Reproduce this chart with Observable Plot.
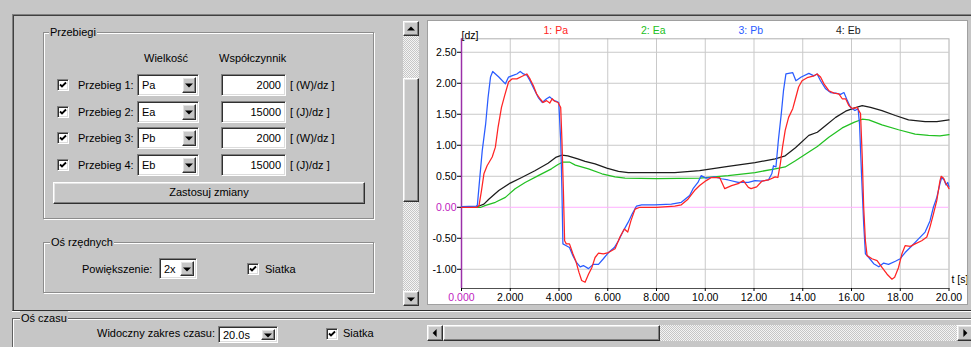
<!DOCTYPE html>
<html><head><meta charset="utf-8">
<script src="https://cdn.jsdelivr.net/npm/d3@7"></script>
<script src="https://cdn.jsdelivr.net/npm/@observablehq/plot@0.6"></script>
<style>
body{margin:0;width:971px;height:347px;overflow:hidden;background:#c6c6c6;font-family:"Liberation Sans",Arial,sans-serif;font-size:11px;color:#000;position:relative}
div{box-sizing:border-box}
.a{position:absolute}
.t{position:absolute;white-space:nowrap;line-height:14px;height:14px}
.raised{position:absolute;background:#c6c6c6;border:1px solid;border-color:#fff #303030 #303030 #fff;box-shadow:inset -1px -1px 0 #808080, inset 1px 1px 0 #e4e4e4}
.sunken{position:absolute;background:#fff;border:1px solid;border-color:#808080 #fff #fff #808080;box-shadow:inset 1px 1px 0 #303030, inset -1px -1px 0 #dcdcdc}
.group{position:absolute;border:1px solid #8c8c8c;box-shadow:inset 1px 1px 0 #fff, 1px 1px 0 #fff}
.glabel{position:absolute;background:#c6c6c6;padding:0 1px;line-height:14px;white-space:nowrap}
.track{position:absolute;background-color:#c6c6c6;background-image:repeating-conic-gradient(#f4f4f4 0 25%, transparent 0 50%);background-size:2px 2px}
.tri{position:absolute;left:50%;top:50%;width:0;height:0}
.dn{border-left:4px solid transparent;border-right:4px solid transparent;border-top:4px solid #000;transform:translate(-50%,-40%)}
.up{border-left:4px solid transparent;border-right:4px solid transparent;border-bottom:4px solid #000;transform:translate(-50%,-60%)}
.lf{border-top:4px solid transparent;border-bottom:4px solid transparent;border-right:4px solid #000;transform:translate(-60%,-50%)}
.rt{border-top:4px solid transparent;border-bottom:4px solid transparent;border-left:4px solid #000;transform:translate(-40%,-50%)}
#panel{position:absolute;left:427px;top:20px;width:541px;height:285px;background:#fff}
#panelBorder{position:absolute;left:427px;top:20px;width:541px;height:285px;border:1px solid #a0a0a0;pointer-events:none}
#legend{position:absolute;left:80px;top:4px;width:390px;display:flex;font-size:10.5px;line-height:12px}
#legend span{flex:1;text-align:center}
</style>
</head>
<body>
<script>
// ---------- chart data: [time s, value dz] ----------
const pa = [[0,0],[0.65,0],[0.72,0.03],[0.82,0.27],[0.92,0.54],[1.05,0.67],[1.26,0.81],[1.39,0.97],[1.5,1.29],[1.64,1.61],[1.77,1.80],[1.93,2.02],[2.07,2.07],[2.27,2.07],[2.47,2.11],[2.68,2.15],[2.81,2.07],[2.95,1.96],[3.08,1.83],[3.22,1.75],[3.35,1.69],[3.49,1.72],[3.62,1.68],[3.72,1.75],[3.82,1.71],[3.96,1.69],[4.07,1.61],[4.12,1.08],[4.18,0.27],[4.23,-0.54],[4.3,-0.59],[4.43,-0.59],[4.57,-0.75],[4.70,-0.88],[4.82,-1.05],[4.93,-1.18],[5.07,-1.21],[5.21,-1.08],[5.35,-0.97],[5.48,-0.81],[5.62,-0.74],[5.82,-0.75],[6.03,-0.73],[6.3,-0.67],[6.5,-0.48],[6.68,-0.35],[6.82,-0.40],[6.95,-0.22],[7.12,-0.03],[7.32,0],[8.0,0],[8.75,0.02],[9.02,0.04],[9.29,0.13],[9.56,0.27],[9.77,0.35],[10.04,0.43],[10.25,0.48],[10.59,0.48],[10.8,0.30],[11.08,0.35],[11.35,0.38],[11.56,0.43],[11.77,0.32],[11.88,0.30],[12.11,0.33],[12.32,0.42],[12.59,0.44],[12.87,0.49],[12.98,0.48],[13.08,0.70],[13.17,0.97],[13.28,1.24],[13.42,1.45],[13.59,1.59],[13.70,1.75],[13.83,1.94],[13.97,2.04],[14.18,2.09],[14.46,2.12],[14.59,2.15],[14.73,2.10],[14.87,1.99],[15.07,1.88],[15.28,1.84],[15.48,1.83],[15.62,1.75],[15.76,1.75],[15.89,1.64],[16.05,1.59],[16.23,1.61],[16.37,1.51],[16.44,0.81],[16.50,0],[16.57,-0.54],[16.64,-0.78],[16.84,-0.83],[17.05,-0.86],[17.25,-0.97],[17.46,-1.08],[17.66,-1.16],[17.77,-1.13],[17.93,-0.97],[18.07,-0.75],[18.20,-0.62],[18.41,-0.63],[18.61,-0.59],[18.88,-0.54],[19.09,-0.48],[19.22,-0.32],[19.36,-0.11],[19.50,0.11],[19.63,0.43],[19.68,0.50],[19.78,0.47],[19.85,0.40],[19.93,0.35],[20,0.30]];
const ea = [[0,0],[0.8,0],[0.99,0.03],[1.39,0.08],[1.80,0.16],[2.2,0.30],[2.61,0.40],[3.15,0.51],[3.69,0.62],[3.96,0.69],[4.16,0.73],[4.43,0.73],[4.67,0.68],[5.21,0.62],[5.76,0.54],[6.3,0.49],[6.71,0.47],[8.0,0.46],[9.77,0.47],[10.94,0.51],[12.04,0.56],[12.87,0.62],[13.28,0.65],[13.70,0.75],[14.25,0.89],[14.6,0.98],[15.07,1.13],[15.62,1.28],[16.10,1.37],[16.44,1.42],[16.71,1.41],[17.25,1.33],[17.93,1.25],[18.61,1.18],[19.16,1.16],[19.63,1.15],[20,1.17]];
const pb = [[0,0.01],[0.6,0.02],[0.65,0.03],[0.74,0.43],[0.85,0.91],[0.99,1.34],[1.09,1.77],[1.19,2.10],[1.28,2.19],[1.53,2.10],[1.80,1.99],[1.93,2.10],[2.14,2.13],[2.27,2.15],[2.41,2.19],[2.54,2.15],[2.68,2.13],[2.81,2.04],[3.01,1.88],[3.15,1.77],[3.31,1.69],[3.49,1.75],[3.62,1.78],[3.76,1.73],[3.89,1.71],[3.99,1.69],[4.07,1.08],[4.12,0.27],[4.16,-0.59],[4.30,-0.62],[4.43,-0.65],[4.57,-0.78],[4.70,-0.88],[4.87,-0.96],[5.0,-0.94],[5.21,-0.99],[5.41,-0.92],[5.62,-0.92],[5.82,-0.83],[6.03,-0.73],[6.27,-0.65],[6.44,-0.54],[6.64,-0.38],[6.84,-0.24],[7.0,-0.11],[7.18,0.02],[7.39,0.04],[7.93,0.04],[8.61,0.05],[9.02,0.08],[9.36,0.19],[9.50,0.30],[9.70,0.40],[9.83,0.51],[10.04,0.47],[10.39,0.49],[10.66,0.46],[10.94,0.44],[11.35,0.40],[11.77,0.40],[12.04,0.43],[12.32,0.42],[12.59,0.44],[12.73,0.54],[12.80,0.67],[12.9,0.65],[13.0,1.08],[13.12,1.51],[13.21,1.88],[13.31,2.15],[13.42,2.16],[13.59,2.17],[13.72,2.04],[13.94,2.10],[14.25,2.16],[14.46,2.12],[14.59,2.15],[14.73,2.04],[14.94,1.91],[15.14,1.85],[15.35,1.84],[15.55,1.82],[15.69,1.85],[15.83,1.72],[15.96,1.61],[16.14,1.56],[16.27,1.59],[16.33,1.34],[16.41,0.54],[16.50,-0.27],[16.57,-0.75],[16.71,-0.81],[16.91,-0.91],[17.12,-0.96],[17.32,-0.90],[17.52,-0.92],[17.80,-0.87],[18.0,-0.83],[18.20,-0.73],[18.48,-0.62],[18.75,-0.51],[19.02,-0.40],[19.22,-0.22],[19.36,0],[19.50,0.16],[19.63,0.38],[19.70,0.48],[19.80,0.44],[19.88,0.36],[19.95,0.40],[20,0.33]];
const eb = [[0,0],[0.6,0],[0.72,0.02],[0.92,0.05],[1.12,0.13],[1.53,0.27],[2.0,0.39],[2.47,0.48],[3.01,0.59],[3.55,0.71],[3.89,0.81],[4.12,0.84],[4.36,0.83],[4.77,0.78],[5.07,0.74],[5.48,0.70],[5.96,0.63],[6.44,0.58],[6.84,0.56],[8.0,0.56],[8.75,0.56],[9.77,0.59],[10.94,0.66],[12.04,0.72],[12.87,0.78],[13.28,0.83],[13.70,0.96],[14.25,1.16],[14.6,1.21],[14.94,1.32],[15.35,1.45],[15.76,1.55],[16.10,1.60],[16.44,1.64],[16.78,1.61],[17.25,1.56],[17.80,1.48],[18.34,1.41],[19.02,1.38],[19.5,1.38],[20,1.41]];

const seriesNames = ["1: Pa", "2: Ea", "3: Pb", "4: Eb"];
const seriesColors = ["#ff2424", "#22c022", "#2a5cff", "#1c1c1c"];

const xTicks = [0, 2, 4, 6, 8, 10, 12, 14, 16, 18, 20];
const xTickLabels = ["0.000", "2.000", "4.000", "6.000", "8.000", "10.00", "12.00", "14.00", "16.00", "18.00", "20.00"];
const yTicks = [-1, -0.5, 0, 0.5, 1, 1.5, 2, 2.5];
const yTickLabels = ["-1.00", "-0.50", "0.00", "0.50", "1.00", "1.50", "2.00", "2.50"];
const yUnit = "[dz]";
const xUnit = "t [s]";
const xDomain = [0, 20];
const yDomain = [-1.31, 2.717];

// ---------- GUI texts ----------
const rowLabels = ["Przebieg 1:", "Przebieg 2:", "Przebieg 3:", "Przebieg 4:"];
const rowQuantities = ["Pa", "Ea", "Pb", "Eb"];
const rowFactors = ["2000", "15000", "2000", "15000"];
const rowUnits = ["[ (W)/dz ]", "[ (J)/dz ]", "[ (W)/dz ]", "[ (J)/dz ]"];

// ---------- GUI helpers ----------
function el(cls, x, y, w, h, html, parent) {
  const d = document.createElement("div");
  d.className = cls;
  d.style.left = x + "px"; d.style.top = y + "px";
  if (w != null) d.style.width = w + "px";
  if (h != null) d.style.height = h + "px";
  if (html != null) d.innerHTML = html;
  (parent || document.body).appendChild(d);
  return d;
}
function text(x, yc, s, parent) { return el("t", x, yc - 7, null, null, s, parent); }
function arrowBtn(x, y, w, h, dir, parent) { const b = el("raised", x, y, w, h, null, parent); const t = el("tri " + dir, 0, 0, null, null, null, b); t.style.left = "50%"; t.style.top = "50%"; return b; }
const checkSvg = '<svg width="10" height="10" style="position:absolute;left:0;top:0"><polyline points="2,4.5 4,6.5 8,2.5" fill="none" stroke="#000" stroke-width="1.8"/></svg>';
function checkbox(x, y) { el("sunken", x, y, 12, 12, checkSvg); }
function combo(x, y, w, h, s) {
  const c = el("sunken", x, y, w, h);
  el("t", 4, (h - 2) / 2 - 7, null, null, s, c);
  arrowBtn(w - 18, 2, 14, h - 6, "dn", c);
}
function input(x, y, w, h, s) {
  const c = el("sunken", x, y, w, h);
  const t = el("t", 0, (h - 2) / 2 - 7, w - 6, null, s, c);
  t.style.textAlign = "right";
}
function group(x, y, w, h, label, lx) {
  el("group", x, y, w, h);
  el("glabel", lx, y - 7, null, 14, label);
}

// outer frames
const topFrame = el("a", 12, 14, 962, 297);
topFrame.style.borderTop = "1px solid #808080"; topFrame.style.borderLeft = "1px solid #808080"; topFrame.style.borderBottom = "1px solid #303030";
topFrame.style.boxShadow = "inset 1px 1px 0 #404040, 0 1px 0 #fff";
const bottomGroup = el("a", 12, 318, 962, 40);
bottomGroup.style.borderTop = "1px solid #606060"; bottomGroup.style.borderLeft = "1px solid #606060";
bottomGroup.style.boxShadow = "inset 1px 1px 0 #fff";
el("glabel", 20, 311, null, 14, "Oś czasu");

// Przebiegi group
group(43, 32, 331, 187, "Przebiegi", 49);
text(144, 58, "Wielkość");
text(219, 58, "Współczynnik");
rowLabels.forEach((lab, i) => {
  const yc = 85 + i * 26.67;
  checkbox(57, Math.round(yc - 6));
  text(78, yc, lab);
  combo(137, Math.round(yc - 11), 62, 22, rowQuantities[i]);
  input(221, Math.round(yc - 11), 65, 22, rowFactors[i]);
  text(290, yc, rowUnits[i]);
});
const btn = el("raised", 53, 182, 312, 22, "Zastosuj zmiany");
btn.style.textAlign = "center"; btn.style.lineHeight = "19px";

// Oś rzędnych group
group(43, 242, 331, 51, "Oś rzędnych", 50);
text(82, 269, "Powiększenie:");
combo(159, 258, 38, 21, "2x");
checkbox(247, 263);
text(265, 269, "Siatka");

// vertical scrollbar
el("track", 403, 35, 16, 256);
arrowBtn(403, 21, 16, 15, "up");
arrowBtn(403, 291, 16, 15, "dn");
el("raised", 403, 78, 16, 124);

// time axis controls
text(97, 333, "Widoczny zakres czasu:");
combo(218, 326, 60, 17, "20.0s");
checkbox(326, 328);
text(343, 333, "Siatka");
el("track", 443, 325, 528, 16);
arrowBtn(427, 325, 16, 16, "lf");
el("raised", 443, 325, 217, 16);
arrowBtn(957, 325, 16, 16, "rt");

// ---------- chart ----------
const panel = el("a", 427, 20, 541, 285);
panel.id = "panel";
const grid = "#c9c9c9";
const magenta = "#c020c0";
const xy = {x: d => d[0], y: d => d[1], strokeWidth: 1.25, curve: "linear"};
const chart = Plot.plot({
  width: 541, height: 285,
  marginLeft: 34, marginRight: 19.5, marginTop: 18.3, marginBottom: 17,
  x: {domain: xDomain},
  y: {domain: yDomain},
  style: {fontFamily: "Liberation Sans, Arial, sans-serif", fontSize: "10.5px", color: "#000", background: "white", overflow: "visible"},
  marks: [
    Plot.gridX(xTicks.filter(d => d > xDomain[0] && d < xDomain[1]), {stroke: grid, strokeOpacity: 1}),
    Plot.gridY(yTicks.filter(d => d !== 0), {stroke: grid, strokeOpacity: 1}),
    Plot.frame({stroke: "#b0b0b0"}),
    Plot.ruleY([0], {stroke: "#ffb0ff"}),
    Plot.ruleY([yDomain[0]], {stroke: "#505050"}),
    Plot.ruleX([0], {stroke: "#9b30a8", strokeWidth: 1.5}),
    Plot.axisY(yTicks, {tickSize: 4, tickPadding: 1, label: null, tickFormat: d => d === 0 ? "" : yTickLabels[yTicks.indexOf(d)]}),
    Plot.axisX(xTicks, {tickSize: 3, tickPadding: 2, label: null, tickFormat: d => d === 0 ? "" : xTickLabels[xTicks.indexOf(d)]}),
    Plot.text([yTickLabels[yTicks.indexOf(0)]], {y: 0, text: d => d, frameAnchor: "left", textAnchor: "end", dx: -5, fill: magenta}),
    Plot.text([xTickLabels[0]], {x: xTicks[0], text: d => d, frameAnchor: "bottom", lineAnchor: "top", dy: 5, fill: magenta}),
    Plot.text([yUnit], {text: d => d, frameAnchor: "top-left", textAnchor: "start", dy: -7}),
    Plot.text([xUnit], {text: d => d, frameAnchor: "bottom-right", textAnchor: "start", dx: 2.5, dy: -6}),
    Plot.line(ea, {...xy, stroke: seriesColors[1]}),
    Plot.line(eb, {...xy, stroke: seriesColors[3]}),
    Plot.line(pb, {...xy, stroke: seriesColors[2]}),
    Plot.line(pa, {...xy, stroke: seriesColors[0]})
  ]
});
chart.style.position = "absolute"; chart.style.left = "0"; chart.style.top = "0";
panel.appendChild(chart);
const legend = document.createElement("div");
legend.id = "legend";
seriesNames.forEach((n, i) => { const s = document.createElement("span"); s.textContent = n; s.style.color = seriesColors[i]; legend.appendChild(s); });
panel.appendChild(legend);
const panelBorder = el("a", 427, 20, 541, 285); panelBorder.id = "panelBorder";
</script>
</body></html>
